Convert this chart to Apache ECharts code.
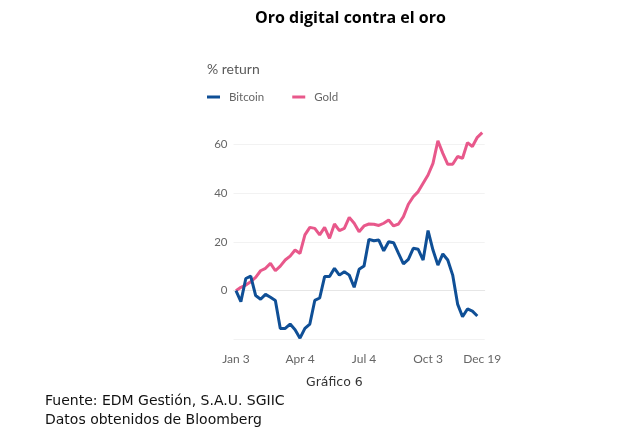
<!DOCTYPE html>
<html>
<head>
<meta charset="utf-8">
<script src="https://cdn.jsdelivr.net/npm/echarts@6/dist/echarts.min.js"></script>
<style>
html,body{margin:0;padding:0;background:#fff;}
#c{width:634px;height:440px;}
</style>
</head>
<body>
<div id="c"></div>
<script>
// Weekly dates (Fridays), Jan 3 to Dec 19
const weeks = [];
const monthNames = ['Jan','Feb','Mar','Apr','May','Jun','Jul','Aug','Sep','Oct','Nov','Dec'];
const mdays = [31,28,31,30,31,30,31,31,30,31,30,31];
(function(){ let m=0,d=3; for(let i=0;i<51;i++){ weeks.push(monthNames[m]+' '+d); d+=7; if(d>mdays[m]){d-=mdays[m];m++;} } })();

const labelIdx = [0, 13, 26, 39, 50];
const tickIdx = [0, 5, 9, 13, 17, 22, 26, 30, 35, 39, 44, 48, 50];

const bitcoin = [0, -4.5, 5, 6, -2, -3.5, -1.5, -2.7, -4, -15.5,
  -15.5, -13.7, -16, -19.5, -15.5, -13.7, -4, -3, 5.8, 5.8,
  9.2, 6.4, 7.8, 6.4, 1.4, 8.8, 10.1, 21.1, 20.5, 20.8,
  16.4, 20.1, 19.7, 15.3, 11, 12.9, 17.4, 17, 12.6, 24.7,
  16.7, 10.5, 15.1, 12.6, 6.4, -5.5, -10.7, -7.5, -8.4, -10.4];

const gold = [0, 1.4, 2.3, 3.7, 5.5, 8.2, 9.2, 11.2, 8.2, 10.1,
  12.6, 14.2, 16.7, 15.3, 22.9, 26, 25.6, 22.9, 26, 21.5,
  27.4, 24.7, 25.6, 30.1, 27.7, 24.2, 26.6, 27.4, 27.3, 26.8,
  27.7, 29, 26.6, 27.4, 30.4, 35.5, 38.6, 40.7, 44.1, 47.5,
  52.3, 61.6, 56.4, 51.9, 51.9, 55.1, 54.4, 60.8, 59.2, 63, 64.9];

const chart = echarts.init(document.getElementById('c'));
const FONT = 'Lato';
const TFONT = 'Open Sans';
const FFONT = 'DejaVu Sans';
chart.setOption({
  animation: false,
  textStyle: {fontFamily: FONT},
  title: [
    {text: 'Oro digital contra el oro', left: 255, top: 10, padding: 0,
     textStyle: {fontSize: 16, fontWeight: 'bold', color: '#000', fontFamily: TFONT}},
    {text: '% return', left: 207, top: 62, padding: 0,
     textStyle: {fontSize: 14, fontWeight: 'normal', color: '#5a5a5a', fontFamily: FONT}},
    {text: 'Gráfico 6', left: 306, top: 376, padding: 0,
     textStyle: {fontSize: 12.5, fontWeight: 'normal', color: '#333', fontFamily: FFONT}},
    {text: 'Fuente: EDM Gestión, S.A.U. SGIIC', left: 45, top: 394, padding: 0,
     textStyle: {fontSize: 14, fontWeight: 'normal', color: '#111', fontFamily: FFONT}},
    {text: 'Datos obtenidos de Bloomberg', left: 45, top: 413, padding: 0,
     textStyle: {fontSize: 14, fontWeight: 'normal', color: '#111', fontFamily: FFONT}}
  ],
  legend: {
    left: 207, top: 91, padding: 0, itemWidth: 13, itemHeight: 3, itemGap: 28,
    icon: 'rect',
    textStyle: {fontSize: 11.5, color: '#666', fontFamily: FONT, padding: [0,0,0,4]},
    data: ['Bitcoin', 'Gold']
  },
  grid: {left: 233.5, width: 251.2, top: 144.6, height: 194.8, containLabel: false},
  xAxis: {
    type: 'category', data: weeks, boundaryGap: true,
    axisLine: {lineStyle: {color: '#e6e6e6', width: 1}},
    axisTick: {alignWithLabel: true, length: 4, lineStyle: {color: '#e0e0e0'},
      interval: (i) => tickIdx.indexOf(i) >= 0},
    axisLabel: {interval: (i) => labelIdx.indexOf(i) >= 0, color: '#666', fontSize: 12,
      margin: 14, fontFamily: FONT},
    splitLine: {show: false}
  },
  yAxis: {
    type: 'value', min: -20, max: 60, interval: 20,
    axisLine: {show: false}, axisTick: {show: false},
    axisLabel: {color: '#666', fontSize: 11.5, margin: 6, fontFamily: FONT,
      formatter: (v) => v === -20 ? '' : String(v)},
    splitLine: {lineStyle: {color: '#f2f2f2', width: 1}}
  },
  series: [
    {name: 'Bitcoin', type: 'line', data: bitcoin, symbol: 'none', clip: false,
     lineStyle: {color: '#0f4f96', width: 3}, itemStyle: {color: '#0f4f96'}, z: 3},
    {name: 'Gold', type: 'line', data: gold, symbol: 'none', clip: false,
     lineStyle: {color: '#e8588b', width: 3}, itemStyle: {color: '#e8588b'}, z: 2}
  ]
});
</script>
</body>
</html>
